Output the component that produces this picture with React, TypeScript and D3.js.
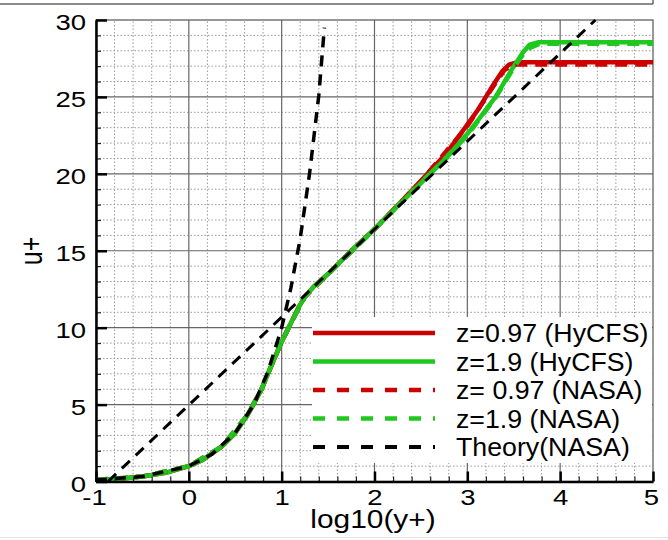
import React, { useEffect, useRef } from 'react';
import { select, scaleLinear, scalePoint, axisLeft, axisBottom, line, range } from 'd3';

// log10(y+) vs u+ profiles
const hycfsRed: [number, number][] = [
  [-1, 0.1], [-0.75, 0.18], [-0.5, 0.32], [-0.25, 0.56], [0, 1.0], [0.15, 1.4],
  [0.35, 2.25], [0.5, 3.15], [0.63, 4.3], [0.78, 5.95], [0.88, 7.4], [0.99, 8.95],
  [1.1, 10.3], [1.18, 11.3], [1.25, 12.0], [1.35, 12.7], [1.52, 13.6], [1.75, 15.0],
  [2.0, 16.4], [2.25, 17.95], [2.5, 19.55], [2.77, 21.3], [3.0, 23.2], [3.13, 24.3],
  [3.27, 25.7], [3.38, 26.7], [3.45, 27.1], [3.53, 27.25], [5, 27.25],
];

const hycfsGreen: [number, number][] = [
  [-1, 0.1], [-0.75, 0.18], [-0.5, 0.32], [-0.25, 0.56], [0, 1.0], [0.15, 1.4],
  [0.35, 2.25], [0.5, 3.15], [0.63, 4.3], [0.78, 5.95], [0.88, 7.4], [0.99, 8.95],
  [1.1, 10.3], [1.18, 11.3], [1.25, 12.0], [1.35, 12.7], [1.52, 13.6], [1.75, 15.0],
  [2.0, 16.4], [2.25, 17.95], [2.5, 19.45], [2.77, 21.0], [3.0, 22.6], [3.13, 23.6],
  [3.31, 25.05], [3.48, 26.8], [3.6, 27.9], [3.67, 28.4], [3.76, 28.55], [5, 28.55],
];

const nasaRed: [number, number][] = [
  [-1, 0.1], [-0.5, 0.32], [0, 1.0], [0.35, 2.25], [0.63, 4.3], [0.78, 5.95],
  [0.88, 7.4], [0.99, 8.95], [1.1, 10.3], [1.25, 12.0], [1.52, 13.6], [2.0, 16.4],
  [2.5, 19.5], [3.0, 23.1], [3.27, 25.6], [3.4, 26.75], [3.5, 27.1], [5, 27.1],
];

const nasaGreen: [number, number][] = [
  [-1, 0.1], [-0.5, 0.32], [0, 1.0], [0.35, 2.25], [0.63, 4.3], [0.78, 5.95],
  [0.88, 7.4], [0.99, 8.95], [1.1, 10.3], [1.25, 12.0], [1.52, 13.6], [2.0, 16.4],
  [2.5, 19.4], [3.0, 22.5], [3.31, 25.0], [3.5, 26.9], [3.64, 28.1], [3.78, 28.45], [5, 28.45],
];

const theoryLinear: [number, number][] = [
  [-1, 0.1], [-0.5, 0.32], [0, 1.0], [0.25, 1.78], [0.5, 3.16], [0.7, 5.0],
  [0.85, 7.1], [1.0, 10.0], [1.1, 12.6], [1.2, 15.8], [1.3, 20.0], [1.4, 25.1], [1.46, 29.5],
];

const theoryLog: [number, number][] = [[-0.87, 0], [4.38, 30.0]];

const legendLabels = ['z=0.97 (HyCFS)', 'z=1.9 (HyCFS)', 'z= 0.97 (NASA)', 'z=1.9 (NASA)', 'Theory(NASA)'];
const legendColors = ['#cc0000', '#1ec81e', '#cc0000', '#1ec81e', '#000000'];
const legendDashed = [false, false, true, true, true];

const xTicks = [-1, 0, 1, 2, 3, 4, 5];
const yTicks = [0, 5, 10, 15, 20, 25, 30];

const FONT = '"Liberation Sans", Arial, sans-serif';

const App = () => {
  const svgRef = useRef<SVGSVGElement>(null);

  useEffect(() => {
    const svg = select(svgRef.current);
    const x = scaleLinear().domain([-1, 5]).range([96, 653]);
    const y = scaleLinear().domain([0, 30]).range([481.5, 20]);

    // grid
    const grid = svg.select('.grid');
    grid
      .selectAll('.vminor')
      .data(range(-1, 5.001, 0.2).filter((v) => Math.abs(v - Math.round(v)) > 0.01))
      .join('line')
      .attr('class', 'vminor')
      .attr('x1', (d) => x(d)).attr('x2', (d) => x(d))
      .attr('y1', y(0)).attr('y2', y(30))
      .attr('stroke', '#9a9a9a').attr('stroke-dasharray', '1.5,2');
    grid
      .selectAll('.hminor')
      .data(range(1, 30, 1).filter((v) => v % 5 !== 0))
      .join('line')
      .attr('class', 'hminor')
      .attr('y1', (d) => y(d)).attr('y2', (d) => y(d))
      .attr('x1', x(-1)).attr('x2', x(5))
      .attr('stroke', '#9a9a9a').attr('stroke-dasharray', '1.5,2');
    grid
      .selectAll('.vmajor')
      .data(xTicks.slice(1, -1))
      .join('line')
      .attr('class', 'vmajor')
      .attr('x1', (d) => x(d)).attr('x2', (d) => x(d))
      .attr('y1', y(0)).attr('y2', y(30))
      .attr('stroke', '#666').attr('stroke-width', 1.2);
    grid
      .selectAll('.hmajor')
      .data(yTicks.slice(1, -1))
      .join('line')
      .attr('class', 'hmajor')
      .attr('y1', (d) => y(d)).attr('y2', (d) => y(d))
      .attr('x1', x(-1)).attr('x2', x(5))
      .attr('stroke', '#666').attr('stroke-width', 1.2);

    // legend background hides the grid
    svg.select('.legend-bg')
      .attr('x', 312).attr('y', 317).attr('width', 340).attr('height', 146)
      .attr('fill', '#fff');

    // frame top / right
    svg.select('.frame')
      .attr('x', x(-1)).attr('y', y(30))
      .attr('width', x(5) - x(-1)).attr('height', y(0) - y(30))
      .attr('fill', 'none').attr('stroke', '#555').attr('stroke-width', 1.2);

    // axes
    const yMinor = axisLeft(y).tickValues(range(0, 31, 1)).tickSize(-5).tickSizeOuter(0).tickFormat(() => '');
    const xMinor = axisBottom(x).tickValues(range(-1, 5.001, 0.2)).tickSize(-5).tickSizeOuter(0).tickFormat(() => '');
    const yAxis = axisLeft(y).tickValues(yTicks).tickSize(-11).tickSizeOuter(0).tickPadding(10)
      .tickFormat((d) => String(d));
    const xAxis = axisBottom(x).tickValues(xTicks).tickSize(-10).tickSizeOuter(0).tickPadding(11)
      .tickFormat((d) => String(d));

    svg.select('.y-minor').attr('transform', `translate(${x(-1)},0)`).call(yMinor as any);
    svg.select('.x-minor').attr('transform', `translate(0,${y(0)})`).call(xMinor as any);
    svg.select('.y-axis').attr('transform', `translate(${x(-1)},0)`).call(yAxis as any);
    svg.select('.x-axis').attr('transform', `translate(0,${y(0)})`).call(xAxis as any);

    svg.selectAll('.x-minor .domain, .y-minor .domain').remove();
    svg.selectAll('.x-minor line, .y-minor line').attr('stroke', '#222').attr('stroke-width', 1.2);
    svg.selectAll('.x-axis line, .y-axis line').attr('stroke', '#000').attr('stroke-width', 2.5);
    svg.selectAll('.x-axis .domain, .y-axis .domain').attr('stroke', '#000').attr('stroke-width', 2.5);

    svg.select('.y-axis').selectAll('text')
      .attr('x', null).attr('dy', null)
      .attr('transform', 'translate(-10,9.5) scale(1.25,1)')
      .attr('font-size', 22).attr('font-family', FONT).attr('fill', '#000');
    svg.select('.x-axis').selectAll('text')
      .attr('y', null).attr('dy', null)
      .attr('transform', (d: any) => `translate(${d === 5 ? -2 : d === -1 ? -2 : 0},23.5) scale(1.25,1)`)
      .attr('font-size', 22).attr('font-family', FONT).attr('fill', '#000');

    // curves
    const path = line<[number, number]>().x((d) => x(d[0])).y((d) => y(d[1]));
    const series = [
      { data: hycfsRed, color: legendColors[0], dash: null, w: 4.5 },
      { data: hycfsGreen, color: legendColors[1], dash: null, w: 4.5 },
      { data: nasaRed, color: legendColors[2], dash: '12,8', w: 4.5 },
      { data: nasaGreen, color: legendColors[3], dash: '12,8', w: 4.5 },
      { data: theoryLinear, color: '#000', dash: '11,8', w: 3.5 },
      { data: theoryLog, color: '#000', dash: '11,8', w: 3 },
    ];
    svg.select('.curves')
      .selectAll('path')
      .data(series)
      .join('path')
      .attr('d', (s) => path(s.data))
      .attr('fill', 'none')
      .attr('stroke', (s) => s.color)
      .attr('stroke-width', (s) => s.w)
      .attr('stroke-dasharray', (s) => s.dash)
      .attr('stroke-linejoin', 'round');

    // legend
    const ly = scalePoint<string>().domain(legendLabels).range([333, 447]);
    const rows = svg.select('.legend')
      .selectAll('g')
      .data(legendLabels)
      .join('g')
      .attr('transform', (d) => `translate(0,${ly(d)})`);
    rows.selectAll('line')
      .data((d) => [legendLabels.indexOf(d)])
      .join('line')
      .attr('x1', 313).attr('x2', 435).attr('y1', 0).attr('y2', 0)
      .attr('stroke', (i) => legendColors[i])
      .attr('stroke-width', (i) => (i === 4 ? 4 : 4.5))
      .attr('stroke-dasharray', (i) => (legendDashed[i] ? '12,12' : null));
    rows.selectAll('text')
      .data((d) => [d])
      .join('text')
      .attr('transform', 'translate(456,9) scale(1.07,1)')
      .attr('font-size', 25)
      .attr('font-family', FONT)
      .style('white-space', 'pre')
      .text((d) => d);
  }, []);

  return (
    <svg
      ref={svgRef}
      width={668}
      height={540}
      style={{ position: 'absolute', left: 0, top: 0, background: '#fff' }}
    >
      <line x1={0} x2={653} y1={4} y2={4} stroke="#666" strokeWidth={1.5} />
      <line x1={653} x2={653} y1={0} y2={4} stroke="#666" strokeWidth={1.5} />
      <line x1={0} x2={668} y1={537.5} y2={537.5} stroke="#e4e4e4" strokeWidth={1} />
      <g className="grid" />
      <rect className="legend-bg" />
      <rect className="frame" />
      <g className="curves" />
      <g className="y-minor" />
      <g className="x-minor" />
      <g className="y-axis" />
      <g className="x-axis" />
      <g className="legend" />
      <text
        transform="translate(373,528) scale(1.15,1)"
        textAnchor="middle"
        fontSize={26}
        fontFamily={FONT}
      >
        log10(y+)
      </text>
      <text
        transform="translate(42,251) scale(1.25,1) rotate(-90)"
        textAnchor="middle"
        fontSize={25}
        fontFamily={FONT}
      >
        u+
      </text>
    </svg>
  );
};

export default App;
